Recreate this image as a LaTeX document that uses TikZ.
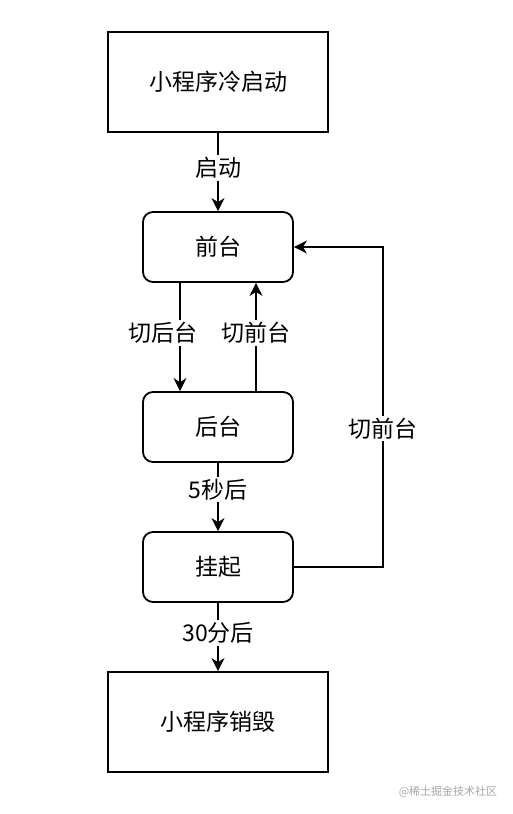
\documentclass[tikz,border=0pt]{standalone}
\usepackage{fontspec}
\setmainfont{Noto Sans CJK SC}
\usetikzlibrary{arrows.meta}

\begin{document}
\begin{tikzpicture}[
      x=1pt, y=-1pt,
      font=\fontsize{23}{27}\selectfont,
      line width=1.8pt,
      >={Stealth[length=13pt, width=13pt, inset=4pt]},
      bigbox/.style={draw=black, minimum width=220pt, minimum height=100pt, inner sep=0pt},
      statebox/.style={draw=black, rounded corners=10pt, minimum width=150pt, minimum height=70pt, inner sep=0pt},
      lbl/.style={fill=white, inner sep=2pt, yshift=4pt}
    ]
      \useasboundingbox (0,0) rectangle (512,814);

      % states from top to bottom
      \node[bigbox] (launch) at (218,82) {小程序冷启动};
      \node[statebox] (front) at (218,247) {前台};
      \node[statebox] (back) at (218,427) {后台};
      \node[statebox] (suspend) at (218,567) {挂起};
      \node[bigbox] (destroy) at (218,722) {小程序销毁};

      % straight transitions
      \draw[->] (launch) -- node[lbl] {启动} (front);
      \draw[->] (back) -- node[lbl, pos=0.45] {5秒后} (suspend);
      \draw[->] (suspend) -- node[lbl] {30分后} (destroy);

      % front <-> back
      \draw[->] ([xshift=-38pt]front.south) -- node[lbl, xshift=-17pt] {切后台} ([xshift=-38pt]back.north);
      \draw[->] ([xshift=38pt]back.north) -- node[lbl] {切前台} ([xshift=38pt]front.south);

      % suspend back to front
      \coordinate (turn) at (383,567);
      \draw[->] (suspend.east) -- (turn) -- node[lbl, pos=0.42] {切前台} (turn |- front.east) -- (front.east);

      % watermark
      \node[text=black!35, font=\fontsize{11}{13}\selectfont] (mark) at (448,792) {@稀土掘金技术社区};
    \end{tikzpicture}
\end{document}
